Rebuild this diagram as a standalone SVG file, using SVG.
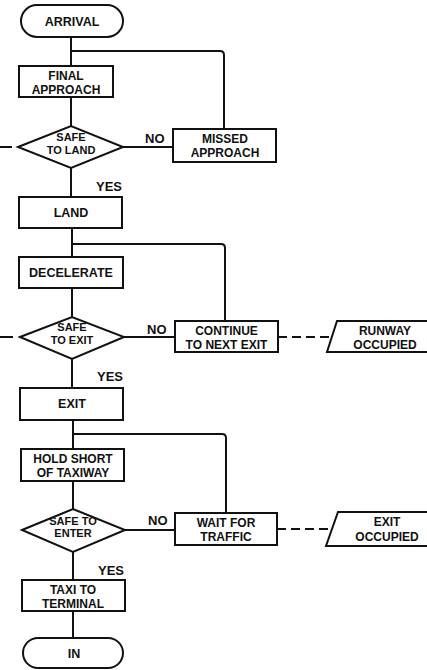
<svg xmlns="http://www.w3.org/2000/svg" width="427" height="670" viewBox="0 0 427 670">
<style>
.s{fill:#fff;stroke:#111;stroke-width:2}
.l{fill:none;stroke:#111;stroke-width:2}
.d{fill:none;stroke:#111;stroke-width:2;stroke-dasharray:9 5}
text{font-family:"Liberation Sans",Arial,sans-serif;font-weight:bold;font-size:12.5px;fill:#111;text-anchor:middle}
.t2{font-size:12px}
.dm{font-size:11px}
.lab{text-anchor:start;font-size:13px}
</style>
<rect width="427" height="670" fill="#fff"/>
<g id="connectors">
<path class="l" d="M71 37V66M71 97V126M71 168V197M72 228V257M72 288V317M72 359V388M73 420V449M73 481V509M73 552V580M73 611V638"/>
<path class="l" d="M71 51H220Q224 51 224 55V129"/>
<path class="l" d="M72 244H221Q225 244 225 248V321"/>
<path class="l" d="M73 434H222Q226 434 226 438V513"/>
<path class="l" d="M123 147H173M124 337H175M125 530H175"/>
<path class="l" d="M0 147H12M0 337H13"/>
<path class="d" d="M278 337H332M277 529H331"/>
<text class="lab" x="145" y="143">NO</text>
<text class="lab" x="147" y="334">NO</text>
<text class="lab" x="148" y="525">NO</text>
<text class="lab" x="96" y="191">YES</text>
<text class="lab" x="97" y="381">YES</text>
<text class="lab" x="98" y="575">YES</text>
</g>
<g id="arrival"><rect class="s" x="21" y="5" width="102" height="32" rx="16"/><text x="72" y="26" font-size="13">ARRIVAL</text></g>
<g id="final-approach"><rect class="s" x="19" y="66" width="94" height="31"/><text class="t2" x="66" y="79.5">FINAL</text><text class="t2" x="66" y="93.5">APPROACH</text></g>
<g id="safe-to-land"><polygon class="s" points="18,147 71,126 123,147 71,168"/><text class="dm" x="71" y="141">SAFE</text><text class="dm" x="71" y="153.5">TO LAND</text></g>
<g id="missed-approach"><rect class="s" x="173" y="129" width="103" height="33"/><text class="t2" x="225" y="143">MISSED</text><text class="t2" x="225" y="157">APPROACH</text></g>
<g id="land"><rect class="s" x="19" y="197" width="103" height="31"/><text x="71" y="217">LAND</text></g>
<g id="decelerate"><rect class="s" x="19" y="257" width="104" height="31"/><text x="71" y="277">DECELERATE</text></g>
<g id="safe-to-exit"><polygon class="s" points="20,337 72,317 124,337 72,359"/><text class="dm" x="72" y="331">SAFE</text><text class="dm" x="72" y="343.5">TO EXIT</text></g>
<g id="continue"><rect class="s" x="175" y="321" width="103" height="31"/><text class="t2" x="226.5" y="335">CONTINUE</text><text class="t2" x="226.5" y="349">TO NEXT EXIT</text></g>
<g id="runway-occupied"><path class="s" d="M432 321H337L327 352H432"/><text class="t2" x="385" y="335">RUNWAY</text><text class="t2" x="385" y="349">OCCUPIED</text></g>
<g id="exit"><rect class="s" x="20" y="388" width="103" height="32"/><text x="72" y="408">EXIT</text></g>
<g id="hold-short"><rect class="s" x="21" y="449" width="103" height="32"/><text class="t2" x="73" y="463">HOLD SHORT</text><text class="t2" x="73" y="477">OF TAXIWAY</text></g>
<g id="safe-to-enter"><polygon class="s" points="22,530 73,509 125,530 73,552"/><text class="dm" x="73" y="524.5">SAFE TO</text><text class="dm" x="73" y="537">ENTER</text></g>
<g id="wait-for-traffic"><rect class="s" x="175" y="513" width="102" height="32"/><text class="t2" x="226" y="527">WAIT FOR</text><text class="t2" x="226" y="541">TRAFFIC</text></g>
<g id="exit-occupied"><path class="s" d="M432 512H338L326 546H432"/><text class="t2" x="387" y="526">EXIT</text><text class="t2" x="387" y="541">OCCUPIED</text></g>
<g id="taxi-to-terminal"><rect class="s" x="22" y="580" width="103" height="31"/><text class="t2" x="73" y="594">TAXI TO</text><text class="t2" x="73" y="608">TERMINAL</text></g>
<g id="in"><rect class="s" x="23" y="638" width="100" height="30" rx="15"/><text x="74" y="658">IN</text></g>
</svg>
